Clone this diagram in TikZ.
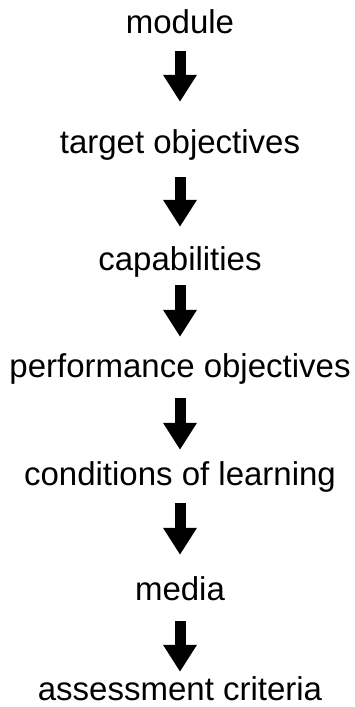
\documentclass[tikz,border=0pt]{standalone}
\usepackage{fontspec}
\setmainfont{Liberation Sans}
\usetikzlibrary{arrows.meta}

\begin{document}
\begin{tikzpicture}[x=1pt, y=-1pt,
    lbl/.style={anchor=base, inner sep=0pt, text height=24pt, text depth=7pt, font=\fontsize{33}{36}\selectfont},
    fat/.style={line width=11pt, -{Triangle[width=32pt, length=27pt]}}]
    \useasboundingbox (0,0) rectangle (354,707);
    \node[lbl] (mod) at (180,33) {module};
    \node[lbl] (tgt) at (180,153) {target objectives};
    \node[lbl] (cap) at (180,270) {capabilities};
    \node[lbl] (perf) at (180,377) {performance objectives};
    \node[lbl] (cond) at (180,485) {conditions of learning};
    \node[lbl] (med) at (180,600) {media};
    \node[lbl] (ass) at (180,700) {assessment criteria};
    % block arrows between the steps
    \draw[fat, shorten <=11pt, shorten >=27pt] (mod.south) -- (tgt.north);
    \draw[fat, shorten <=17pt, shorten >=19pt] (tgt.south) -- (cap.north);
    \draw[fat, shorten <=8pt, shorten >=16pt] (cap.south) -- (perf.north);
    \draw[fat, shorten <=14pt, shorten >=11pt] (perf.south) -- (cond.north);
    \draw[fat, shorten <=11pt, shorten >=21pt] (cond.south) -- (med.north);
    \draw[fat, shorten <=14pt, shorten >=4pt] (med.south) -- (ass.north);
\end{tikzpicture}
\end{document}
